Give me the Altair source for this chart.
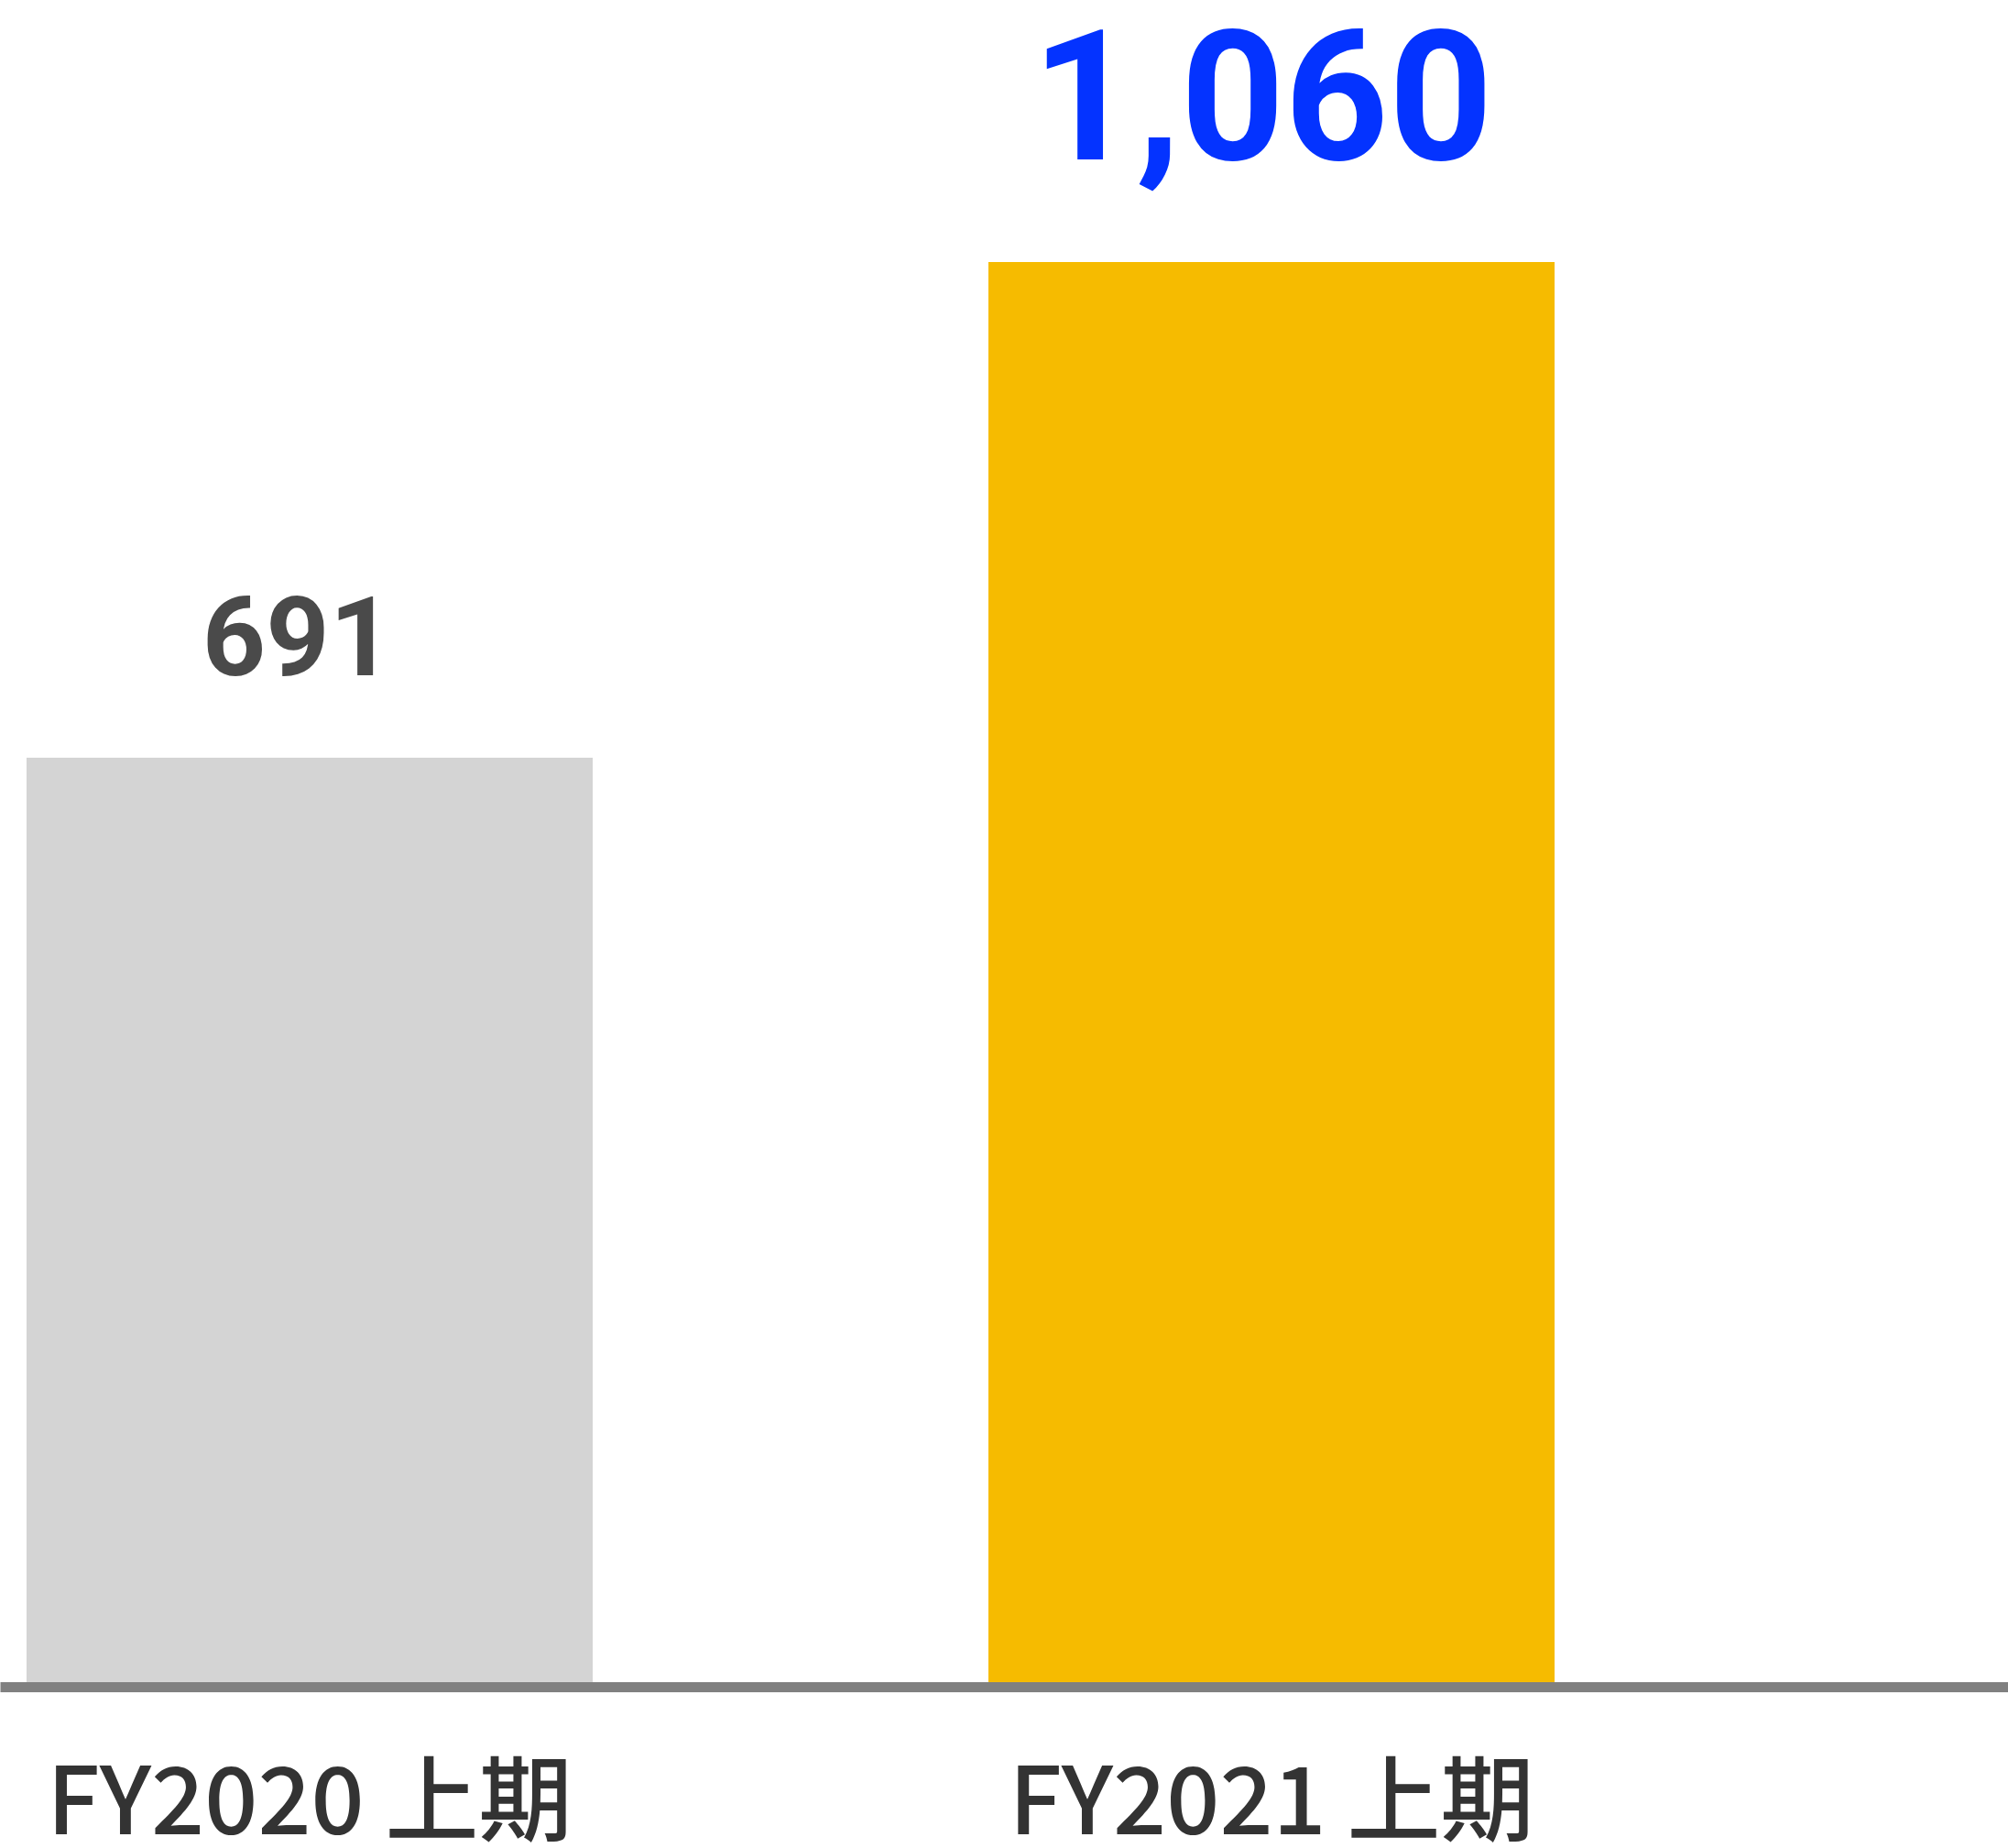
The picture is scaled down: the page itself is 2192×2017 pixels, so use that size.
import altair as alt
import pandas as pd

categories = ["FY2020 上期", "FY2021 上期"]
values = [691, 1060]
value_labels = ["691", "1,060"]
bar_colors = ["#D4D4D4", "#F6BB00"]

df = pd.DataFrame({"category": categories, "value": values, "label": value_labels})

W, H = 2192, 1840

x = alt.X("category:N", sort=categories,
          scale=alt.Scale(paddingInner=0.4114, paddingOuter=0.2495, align=0.0553),
          axis=alt.Axis(title=None, labelAngle=0, labelFont="Noto Sans CJK JP",
                        labelFontSize=102, labelFontWeight=500, labelColor="#333333",
                        labelPadding=79, labelLimit=0, ticks=False, domainColor="#808080",
                        domainWidth=11, domainCap="butt", offset=1, zindex=1, grid=False))
y = alt.Y("value:Q", scale=alt.Scale(domain=[0, 1255], nice=False, zero=True), axis=None)

base = alt.Chart(df)

bars = base.mark_bar().encode(
    x=x, y=y,
    color=alt.Color("category:N", scale=alt.Scale(domain=categories, range=bar_colors), legend=None),
)

numfont = "Roboto"

t1 = base.transform_filter(alt.datum.category == categories[0]).mark_text(
    baseline="alphabetic", dy=-90, dx=-13, fontSize=121, font=numfont, fontWeight="bold",
    color="#4A4A4A").encode(x=x, y=y, text="label:N")

t2 = base.transform_filter(alt.datum.category == categories[1]).mark_text(
    baseline="alphabetic", dy=-112, dx=-10, fontSize=198, font=numfont, fontWeight="bold",
    color="#0433FF").encode(x=x, y=y, text="label:N")

chart = alt.layer(bars, t1, t2).properties(
    width=W, height=H,
    autosize=alt.AutoSizeParams(type="none"),
    padding={"left": 0, "top": 0, "right": 0, "bottom": 177},
).configure_view(stroke=None)

chart.save("out.html", embed_options={"renderer": "svg", "actions": False})
